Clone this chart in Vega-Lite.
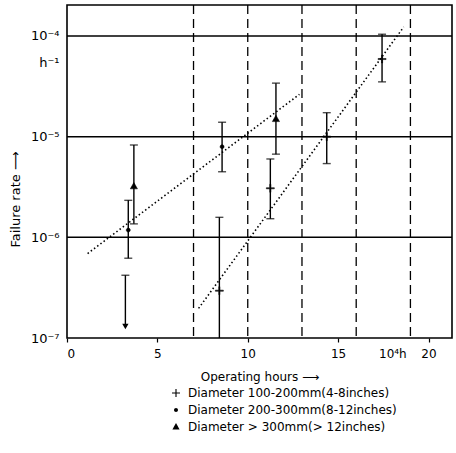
{
  "$schema": "https://vega.github.io/schema/vega-lite/v6.json",
  "width": 385,
  "height": 333,
  "autosize": {"type": "none"},
  "padding": {"left": 67, "top": 5, "right": 4, "bottom": 115},
  "background": "white",
  "config": {
    "view": {"stroke": "black", "strokeWidth": 1.6},
    "font": "DejaVu Sans"
  },
  "datasets": {
    "hlines": [{"y": 1e-6}, {"y": 1e-5}, {"y": 1e-4}],
    "vlines": [{"x": 7}, {"x": 10}, {"x": 13}, {"x": 16}, {"x": 19}],
    "fits": [
      {"fit": "200-300", "x": 1.14, "y": 6.9e-7},
      {"fit": "200-300", "x": 12.86, "y": 2.63e-5},
      {"fit": "100-200", "x": 7.28, "y": 1.97e-7},
      {"fit": "100-200", "x": 18.63, "y": 1.23e-4}
    ],
    "obs": [
      {"group": "Diameter 100-200mm(4-8inches)", "x": 8.43, "y": 2.95e-7, "hi": 1.58e-6, "lo": 1e-7},
      {"group": "Diameter 100-200mm(4-8inches)", "x": 11.25, "y": 3.07e-6, "hi": 6.0e-6, "lo": 1.53e-6},
      {"group": "Diameter 100-200mm(4-8inches)", "x": 14.37, "y": 1.0e-5, "hi": 1.73e-5, "lo": 5.4e-6},
      {"group": "Diameter 100-200mm(4-8inches)", "x": 17.43, "y": 5.9e-5, "hi": 1.04e-4, "lo": 3.5e-5},
      {"group": "Diameter 200-300mm(8-12inches)", "x": 3.39, "y": 1.18e-6, "hi": 2.33e-6, "lo": 6.2e-7},
      {"group": "Diameter 200-300mm(8-12inches)", "x": 8.58, "y": 7.95e-6, "hi": 1.39e-5, "lo": 4.48e-6},
      {"group": "Diameter >  300mm(> 12inches)", "x": 3.7, "y": 3.2e-6, "hi": 8.26e-6, "lo": 1.36e-6},
      {"group": "Diameter >  300mm(> 12inches)", "x": 11.56, "y": 1.49e-5, "hi": 3.4e-5, "lo": 6.7e-6}
    ],
    "limits": [
      {"x": 3.23, "hi": 4.2e-7, "lo": 1.3e-7}
    ]
  },
  "layer": [
    {
      "data": {"name": "hlines"},
      "mark": {"type": "rule", "color": "black", "strokeWidth": 1.5},
      "encoding": {
        "y": {"field": "y", "type": "quantitative", "scale": {"type": "log", "domain": [1e-7, 2.03e-4], "nice": false}}
      }
    },
    {
      "data": {"name": "vlines"},
      "mark": {"type": "rule", "color": "black", "strokeWidth": 1.3, "strokeDash": [9, 5]},
      "encoding": {
        "x": {"field": "x", "type": "quantitative", "scale": {"domain": [0, 21.3], "nice": false, "zero": false}}
      }
    },
    {
      "data": {"name": "fits"},
      "mark": {"type": "line", "color": "black", "strokeWidth": 1.6, "strokeDash": [1.5, 2.5]},
      "encoding": {
        "x": {"field": "x", "type": "quantitative", "scale": {"domain": [0, 21.3], "nice": false, "zero": false}},
        "y": {"field": "y", "type": "quantitative", "scale": {"type": "log", "domain": [1e-7, 2.03e-4], "nice": false}},
        "detail": {"field": "fit"}
      }
    },
    {
      "data": {"name": "obs"},
      "mark": {"type": "rule", "color": "black", "strokeWidth": 1.4},
      "encoding": {
        "x": {"field": "x", "type": "quantitative", "scale": {"domain": [0, 21.3], "nice": false, "zero": false}},
        "y": {"field": "lo", "type": "quantitative", "scale": {"type": "log", "domain": [1e-7, 2.03e-4], "nice": false}},
        "y2": {"field": "hi"}
      }
    },
    {
      "data": {"name": "obs"},
      "mark": {"type": "tick", "orient": "horizontal", "color": "black", "size": 8, "thickness": 1.4},
      "encoding": {
        "x": {"field": "x", "type": "quantitative", "scale": {"domain": [0, 21.3], "nice": false, "zero": false}},
        "y": {"field": "hi", "type": "quantitative", "scale": {"type": "log", "domain": [1e-7, 2.03e-4], "nice": false}}
      }
    },
    {
      "data": {"name": "obs"},
      "transform": [{"filter": "datum.lo > 1.01e-7"}],
      "mark": {"type": "tick", "orient": "horizontal", "color": "black", "size": 8, "thickness": 1.4},
      "encoding": {
        "x": {"field": "x", "type": "quantitative", "scale": {"domain": [0, 21.3], "nice": false, "zero": false}},
        "y": {"field": "lo", "type": "quantitative", "scale": {"type": "log", "domain": [1e-7, 2.03e-4], "nice": false}}
      }
    },
    {
      "data": {"name": "limits"},
      "mark": {"type": "rule", "color": "black", "strokeWidth": 1.4},
      "encoding": {
        "x": {"field": "x", "type": "quantitative", "scale": {"domain": [0, 21.3], "nice": false, "zero": false}},
        "y": {"field": "lo", "type": "quantitative", "scale": {"type": "log", "domain": [1e-7, 2.03e-4], "nice": false}},
        "y2": {"field": "hi"}
      }
    },
    {
      "data": {"name": "limits"},
      "mark": {"type": "tick", "orient": "horizontal", "color": "black", "size": 8, "thickness": 1.4},
      "encoding": {
        "x": {"field": "x", "type": "quantitative", "scale": {"domain": [0, 21.3], "nice": false, "zero": false}},
        "y": {"field": "hi", "type": "quantitative", "scale": {"type": "log", "domain": [1e-7, 2.03e-4], "nice": false}}
      }
    },
    {
      "data": {"name": "limits"},
      "mark": {"type": "point", "shape": "triangle-down", "filled": true, "color": "black", "size": 40, "opacity": 1},
      "encoding": {
        "x": {"field": "x", "type": "quantitative", "scale": {"domain": [0, 21.3], "nice": false, "zero": false}},
        "y": {"field": "lo", "type": "quantitative", "scale": {"type": "log", "domain": [1e-7, 2.03e-4], "nice": false}}
      }
    },
    {
      "data": {"name": "obs"},
      "mark": {"type": "point", "filled": true, "color": "black", "stroke": "black", "strokeWidth": 0.5, "opacity": 1, "size": 64},
      "encoding": {
        "x": {
          "field": "x", "type": "quantitative",
          "scale": {"domain": [0, 21.3], "nice": false, "zero": false},
          "axis": {
            "title": "Operating hours ⟶",
            "titleFontSize": 12, "titleFontWeight": "normal", "titleColor": "black", "titlePadding": 12,
            "values": [0, 5, 10, 15, 18, 20],
            "labelExpr": "datum.value == 18 ? '10⁴h' : datum.label",
            "labelFontSize": 12, "labelColor": "black", "labelPadding": 6,
            "domain": false, "grid": false,
            "tickColor": "black", "tickSize": 4, "tickWidth": 1.2,
            "tickOpacity": {"condition": {"test": "datum.value == 18", "value": 0}, "value": 1}
          }
        },
        "y": {
          "field": "y", "type": "quantitative",
          "scale": {"type": "log", "domain": [1e-7, 2.03e-4], "nice": false},
          "axis": {
            "title": "Failure rate ⟶",
            "titleFontSize": 13, "titleFontWeight": "normal", "titleColor": "black",
            "titleX": -45, "titleY": 194, "titleAngle": -90, "titleAlign": "center",
            "values": [1e-7, 1e-6, 1e-5, 5.4e-5, 1e-4],
            "labelExpr": "datum.value < 2e-7 ? '10⁻⁷' : datum.value < 2e-6 ? '10⁻⁶' : datum.value < 2e-5 ? '10⁻⁵' : datum.value < 7e-5 ? 'h⁻¹' : '10⁻⁴'",
            "labelFontSize": 13, "labelColor": "black", "labelPadding": 8,
            "domain": false, "grid": false, "ticks": false
          }
        },
        "shape": {
          "field": "group", "type": "nominal",
          "scale": {
            "domain": ["Diameter 100-200mm(4-8inches)", "Diameter 200-300mm(8-12inches)", "Diameter >  300mm(> 12inches)"],
            "range": [
              "M-1,-0.14L-0.14,-0.14L-0.14,-1L0.14,-1L0.14,-0.14L1,-0.14L1,0.14L0.14,0.14L0.14,1L-0.14,1L-0.14,0.14L-1,0.14Z",
              "M-0.5,0A0.5,0.5 0 1,0 0.5,0A0.5,0.5 0 1,0 -0.5,0Z",
              "M0,-1L0.9,0.6L-0.9,0.6Z"
            ]
          },
          "legend": {
            "title": null, "orient": "none", "direction": "vertical",
            "legendX": 103, "legendY": 382,
            "labelFontSize": 12, "labelColor": "black", "labelLimit": 400, "labelOffset": 6,
            "rowPadding": 5, "symbolSize": 64,
            "symbolFillColor": "black", "symbolStrokeColor": "black", "symbolStrokeWidth": 0.5,
            "encode": {
              "symbols": {
                "update": {
                  "stroke": {"value": "black"},
                  "strokeWidth": {"value": 0.5},
                  "fill": {"value": "black"},
                  "opacity": {"value": 1}
                }
              }
            }
          }
        }
      }
    }
  ]
}
